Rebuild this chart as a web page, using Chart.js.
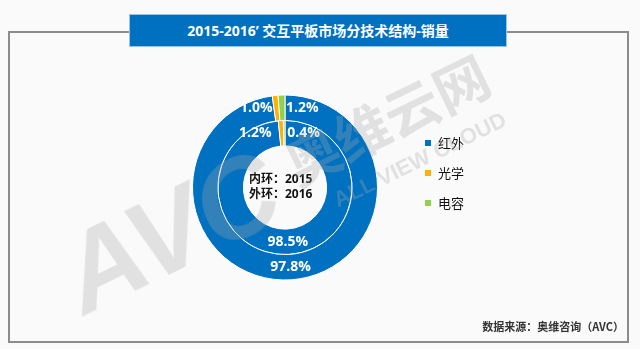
<!DOCTYPE html>
<html>
<head>
<meta charset="utf-8">
<script src="https://cdn.jsdelivr.net/npm/chart.js@4/dist/chart.umd.min.js"></script>
<style>
  html, body { margin: 0; padding: 0; background: #fafafa; }
  body { width: 640px; height: 349px; position: relative; overflow: hidden;
         font-family: "Open Sans", "Noto Sans CJK SC", sans-serif; }
  .frame { position: absolute; left: 8px; top: 31px; width: 617px; height: 308px;
           border: 2px solid #8c8c8c; }
  .title { position: absolute; left: 129px; top: 14px; width: 376px; height: 31px;
           background: #0070c0; border: 1px solid #9dc3e6; color: #fff;
           font-size: 14px; font-weight: bold; line-height: 31px; text-align: center; }
  .source { position: absolute; right: 16px; top: 318px; font-size: 11px; font-weight: bold;
            color: #333; font-family: "Noto Sans CJK SC", sans-serif; }
  #chart { position: absolute; left: 0; top: 0; }
  .wm { position: absolute; transform: translate(-50%, -50%) rotate(-26deg);
        color: rgba(170, 170, 170, 0.3); font-weight: bold; white-space: nowrap;
        pointer-events: none; line-height: 1; }
</style>
</head>
<body>
<div class="frame"></div>
<canvas id="chart" width="640" height="349"></canvas>
<div class="wm" style="left:170px;top:232px;font-size:112px;font-style:italic;font-family:'Liberation Sans';">AVC</div>
<div class="wm" style="left:386px;top:118px;font-size:55px;font-family:'Noto Sans CJK SC';">奥维云网</div>
<div class="wm" style="left:420px;top:160px;font-size:22px;font-family:'Liberation Sans';">ALL VIEW CLOUD</div>
<div class="title">2015-2016’ 交互平板市场分技术结构-销量</div>
<div class="source">数据来源：奥维咨询（AVC）</div>
<script>
const categories = ["红外", "光学", "电容"]
const colors = ["#0070c0", "#ffb000", "#92d050"]
const outer2016 = [97.8, 1.0, 1.2]
const inner2015 = [98.5, 1.2, 0.4]
const centerLines = ["内环：2015", "外环：2016"]

// percent labels, small slices pushed to the side
const sliceLabels = {
  id: "sliceLabels",
  afterDatasetsDraw(chart) {
    const ctx = chart.ctx
    ctx.save()
    ctx.font = "bold 14px 'Open Sans'"
    ctx.fillStyle = "#fff"
    ctx.textBaseline = "middle"
    const gapLeft = [4, 10]
    const gapRight = [4, 3]
    chart.data.datasets.forEach((ds, di) => {
      const meta = chart.getDatasetMeta(di)
      meta.data.forEach((arc, i) => {
        const p = arc.getProps(["x", "y", "startAngle", "endAngle", "innerRadius", "outerRadius"], true)
        const mid = (p.startAngle + p.endAngle) / 2
        const r = (p.innerRadius + p.outerRadius) / 2
        let x = p.x + Math.cos(mid) * r
        const y = p.y + Math.sin(mid) * r
        const text = ds.data[i].toFixed(1) + "%"
        if (ds.data[i] < 5) {
          if (i === 1) { ctx.textAlign = "right"; x -= gapLeft[di] }
          else { ctx.textAlign = "left"; x += gapRight[di] }
        } else {
          ctx.textAlign = "center"
        }
        ctx.fillText(text, x, y)
      })
    })
    ctx.restore()
  }
}

const centerText = {
  id: "centerText",
  afterDraw(chart) {
    const arc = chart.getDatasetMeta(0).data[0]
    const ctx = chart.ctx
    ctx.save()
    ctx.font = "bold 12px 'Open Sans', 'Noto Sans CJK SC'"
    ctx.fillStyle = "#111"
    ctx.textAlign = "left"
    ctx.textBaseline = "middle"
    centerLines.forEach((t, i) => ctx.fillText(t, arc.x - 36, arc.y - 8 + i * 15))
    ctx.restore()
  }
}

const sideLegend = {
  id: "sideLegend",
  afterDraw(chart) {
    const ctx = chart.ctx
    const left = chart.chartArea.right + 47
    ctx.save()
    ctx.font = "13px 'Noto Sans CJK SC'"
    ctx.textBaseline = "middle"
    ctx.textAlign = "left"
    chart.data.labels.forEach((lab, i) => {
      const y = 143 + i * 30
      ctx.fillStyle = colors[i]
      ctx.fillRect(left, y - 3, 6, 6)
      ctx.fillStyle = "#111"
      ctx.fillText(lab, left + 13, y)
    })
    ctx.restore()
  }
}

new Chart(document.getElementById("chart"), {
  type: "doughnut",
  data: {
    labels: categories,
    datasets: [
      { label: "2016", data: outer2016, backgroundColor: colors, borderColor: "#fff", borderWidth: 1 },
      { label: "2015", data: inner2015, backgroundColor: colors, borderColor: "#fff", borderWidth: 1 }
    ]
  },
  options: {
    responsive: false,
    animation: false,
    devicePixelRatio: 1,
    cutout: "45%",
    layout: { padding: { left: 192, right: 262, top: 94, bottom: 68 } },
    plugins: { legend: { display: false }, tooltip: { enabled: false } }
  },
  plugins: [sliceLabels, centerText, sideLegend]
})
</script>
</body>
</html>
